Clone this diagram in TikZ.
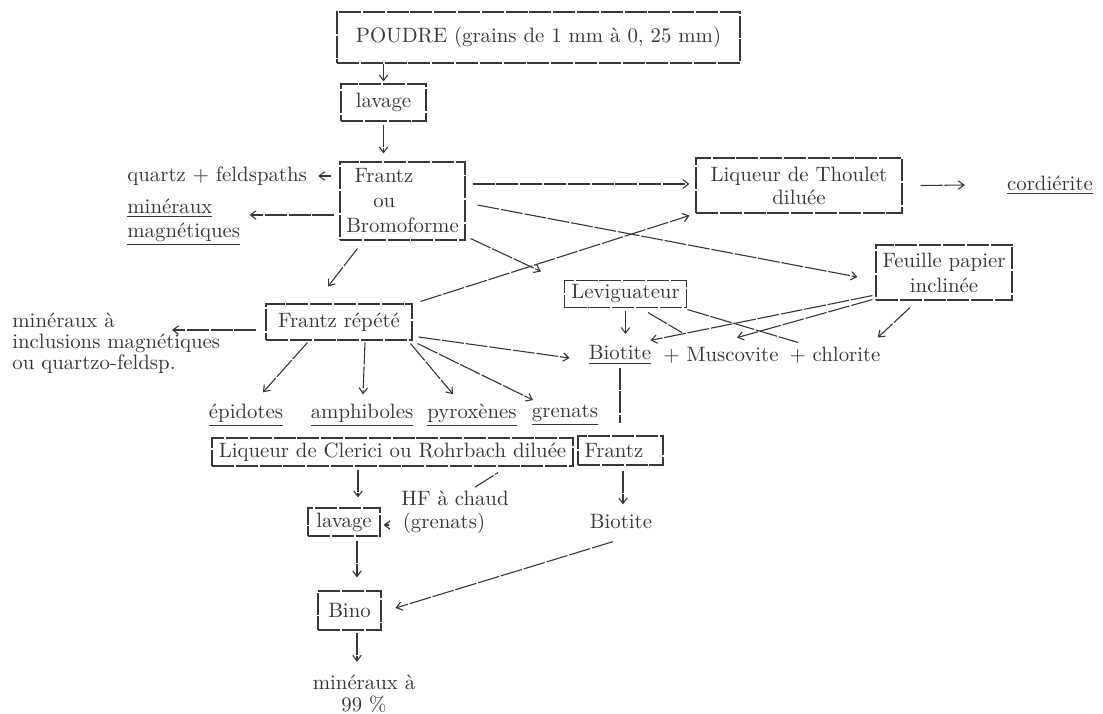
\documentclass[tikz,border=0pt]{standalone}
\usetikzlibrary{arrows.meta,calc}
\definecolor{ink}{RGB}{55,55,55}
\begin{document}
\begin{tikzpicture}[x=0.5pt,y=-0.5pt,
  ln/.style={draw=ink,line width=0.55pt,dash pattern=on 11pt off 0.9pt},
  ar/.style={ln,-{Straight Barb[length=2.8pt,width=4.2pt]}},
  box/.style={draw=ink,line width=0.55pt,dash pattern=on 11pt off 0.9pt,inner sep=0pt,text=ink,font=\fontsize{10.4}{12}\selectfont},
  lbl/.style={inner sep=0.5pt,text=ink,font=\fontsize{10.4}{12}\selectfont}]
\useasboundingbox (0,0) rectangle (1103,713);
\fill[white] (0,0) rectangle (1103,713);
% boxes
\node[box,minimum width=201.5pt,minimum height=25.5pt] (poudre) at (538.5,37.5) {POUDRE (grains de 1 mm à 0, 25 mm)};
\node[box,minimum width=42.5pt,minimum height=18.5pt] (lav1) at (383.5,102.5) {lavage};
\node[box,minimum width=62.5pt,minimum height=39pt,align=left,font=\fontsize{10.4}{12.5}\selectfont] (fb) at (402.5,201) {\hspace*{0.4em}Frantz\\\hspace*{1.3em}ou\\Bromoforme};
\node[box,minimum width=103pt,minimum height=27.5pt,align=center,font=\fontsize{10.4}{11.5}\selectfont] (th) at (799,185.5) {Liqueur de Thoulet\\diluée};
\node[box,minimum width=68pt,minimum height=27.5pt,align=center,font=\fontsize{10.4}{12.5}\selectfont] (fe) at (944,272.5) {Feuille papier\\inclinée};
\node[box,minimum width=61pt,minimum height=13.5pt] (lev) at (625.5,294) {Leviguateur};
\node[box,minimum width=73pt,minimum height=18pt] (fr) at (339,322) {Frantz répété};
\node[box,minimum width=180.5pt,minimum height=14pt] (cl) at (392.5,452) {Liqueur de Clerici ou Rohrbach diluée};
\node[box,minimum width=42.5pt,minimum height=14.5pt,text width=36pt,align=left] (fr2) at (620.5,450.5) {Frantz};
\node[box,minimum width=36pt,minimum height=14pt] (lav2) at (344,522) {lavage};
\node[box,minimum width=31.5pt,minimum height=19.5pt] (bino) at (349.5,610.5) {Bino};
% labels
\node[lbl,anchor=west] (qf) at (126,176) {quartz + feldspaths};
\node[lbl,anchor=west,align=left] (mm) at (126,222) {\underline{minéraux}\\\underline{magnétiques}};
\node[lbl] (cord) at (1050,185) {\underline{cordiérite}};
\node[lbl,anchor=west,align=left,font=\fontsize{10.4}{10.5}\selectfont] (inc) at (11,343) {minéraux à\\inclusions magnétiques\\ou quartzo-feldsp.};
\node[lbl] (bio1) at (620,355) {\underline{Biotite}};
\node[lbl] (mus) at (721,355) {+ Muscovite};
\node[lbl] (chl) at (835,355) {+ chlorite};
\node[lbl] (epi) at (246,415) {\underline{épidotes}};
\node[lbl] (amp) at (362,415) {\underline{amphiboles}};
\node[lbl] (pyr) at (472,415) {\underline{pyroxènes}};
\node[lbl] (gre) at (565,415) {\underline{grenats}};
\node[lbl] (bio2) at (621,521) {Biotite};
\node[lbl] (hf) at (455,498) {HF à chaud};
\node[lbl] (gr2) at (444,523) {(grenats)};
\node[lbl,align=center,font=\fontsize{10.4}{11}\selectfont] (min99) at (364,694) {minéraux à\\99 \%};
% connectors
\draw[ar] (poudre.south -| lav1) -- ([yshift=1pt]lav1.north);
\draw[ar] ([yshift=-1.5pt]lav1.south) -- ([yshift=4pt]lav1.south |- fb.north);
\draw[ar] ($(fb.west|-qf)+(-8,0)$) -- ($(qf.east)+(10,0)$);
\draw[ar] ($(fb.west)+(-5,14)$) -- ($(mm.east|-fb.west)+(8,14)$);
\draw[ar] ($(fb.east)+(7,-17)$) -- ($(th.west)+(-6,-1.5)$);
\draw[ar] ($(th.east)+(18,0)$) -- ($(cord.west)+(-41,0)$);
\draw[ar] ($(fb.east)+(12,4)$) -- ($(fe.west)+(-18,4.5)$);
\draw[ar] ($(fb.south east)+(5,-2)$) -- ($(lev.north west)+(-23,-8.5)$);
\draw[ar] ($(fb.south west)+(18,8)$) -- ($(fr.north)+(-11,-17)$);
\draw[ar] ($(fr.north east)+(8,-2)$) -- ($(th.south west)+(-6,2)$);
\draw[ar] ($(fr.west)+(-9,8)$) -- ($(inc.west)+(161,-13)$);
\draw[ar] ($(fr.south west)+(42,2)$) -- ($(epi.north)+(17,-10)$);
\draw[ar] ($(fr.south)+(26,2)$) -- ($(amp.north)+(1,-8)$);
\draw[ar] ($(fr.south east)+(-2,3)$) -- ($(pyr.north)+(-19,-8)$);
\draw[ar] ($(fr.south east)+(5,3)$) -- ($(gre.north)+(-32,-3)$);
\draw[ar] ($(fr.east)+(6,15)$) -- ($(bio1.west)+(-18,3)$);
\draw[ar] ($(lev.south)+(0,3)$) -- ($(lev.south)+(0,26)$);
\draw[ln] ($(lev.south)+(22.5,4.5)$) -- ($(mus.north west)+(20,-13)$);
\draw[ln] ($(lev.south east)+(0.5,1.5)$) -- ($(chl.north west)+(10,-3)$);
\draw[ar] ($(fe.south west)+(-3,-5)$) -- ($(bio1.north east)+(-2,-4)$);
\draw[ar] ($(fe.south west)+(-3,-1)$) -- ($(mus.north)+(16,-8)$);
\draw[ar] ($(fe.south)+(-34,7)$) -- ($(chl.north east)+(-4,-8)$);
\draw[ln] ([yshift=-1pt]bio1.south) -- ([yshift=6pt]bio1.south |- fr2.north);
\draw[ar] ($(fr2.south)+(2.5,5)$) -- ($(bio2.north)+(2,-8)$);
\draw[ar] ($(bio2.south)+(-8,12)$) -- ($(bino.east)+(14,-2.5)$);
\draw[ar] ($(cl.south)+(-34.5,3)$) -- ($(lav2.north)+(14,-10)$);
\draw[ar] ($(lav2.south)+(13,4)$) -- ($(bino.north)+(7.5,-13)$);
\draw[ar] ($(bino.south)+(7.5,2)$) -- ($(min99.north)+(-7,-12)$);
\draw[ar] ($(gr2.west)+(-12,2)$) -- ($(lav2.east)+(3,3)$);
\draw[ln] ($(hf.north)+(20,-2)$) -- ($(cl.south)+(105.5,6)$);
\end{tikzpicture}
\end{document}
